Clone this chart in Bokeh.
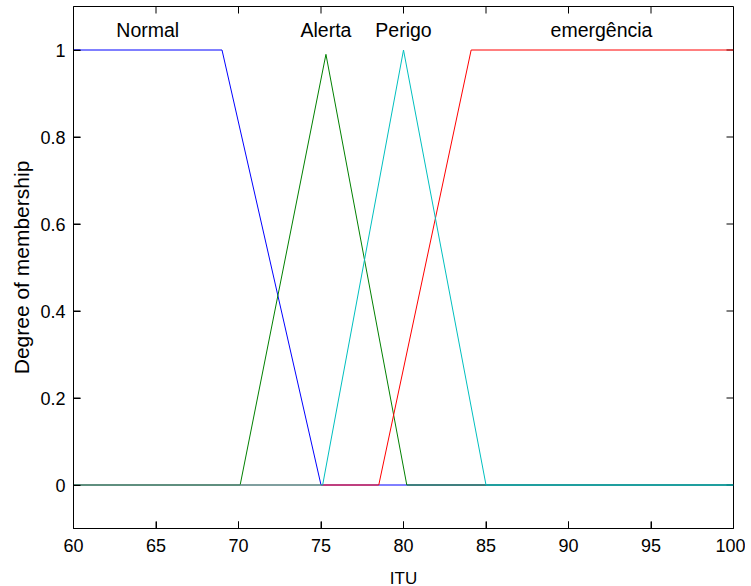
from bokeh.plotting import figure
from bokeh.models import Range1d, FixedTicker, CustomJSTickFormatter
from bokeh.core.properties import value
from bokeh.embed import file_html
from bokeh.resources import INLINE

# membership functions (vertices)
normal_x = [60, 69, 75, 100]
normal_mu = [1, 1, 0, 0]
alerta_x = [60, 70.1, 75.3, 80.2, 100]
alerta_mu = [0, 0, 0.99, 0, 0]
perigo_x = [60, 75.1, 80, 85, 100]
perigo_mu = [0, 0, 1, 0, 0]
emerg_x = [60, 78.5, 84.1, 100]
emerg_mu = [0, 0, 1, 1]

label_text = ["Normal", "Alerta", "Perigo", "emergência"]
label_x = [64.5, 75.3, 80, 92]
label_y = [1.045, 1.045, 1.045, 1.045]

x_ticks = [60, 65, 70, 75, 80, 85, 90, 95, 100]
y_ticks = [0, 0.2, 0.4, 0.6, 0.8, 1]
x_lim = (60, 100)
y_lim = (-0.1, 1.1)

FONT = "Liberation Sans"
FW, FH = 660, 522
TICK_PX = 7

p = figure(frame_width=FW, frame_height=FH, output_backend="svg",
           toolbar_location=None, x_range=Range1d(*x_lim), y_range=Range1d(*y_lim),
           min_border_left=73, min_border_right=12, min_border_top=6, min_border_bottom=0,
           x_axis_label="ITU", y_axis_label="Degree of membership")
p.grid.visible = False
p.outline_line_color = "black"
p.outline_line_width = 1
p.background_fill_color = "white"
p.border_fill_color = "white"

fmt = CustomJSTickFormatter(code="var s = tick.toFixed(1); return s.replace(/\\.0$/, '');")

for ax in p.xaxis:
    ax.ticker = FixedTicker(ticks=x_ticks)
    ax.major_label_standoff = 10
    ax.axis_label_standoff = 14
    ax.axis_label_text_font_size = "17px"
for ax in p.yaxis:
    ax.ticker = FixedTicker(ticks=y_ticks)
    ax.formatter = fmt
    ax.major_label_standoff = 8
    ax.axis_label_standoff = 4
    ax.axis_label_text_font_size = "21px"

for ax in list(p.xaxis) + list(p.yaxis):
    ax.major_tick_in = TICK_PX
    ax.major_tick_out = 0
    ax.minor_tick_in = 0
    ax.minor_tick_out = 0
    ax.axis_line_color = "black"
    ax.major_tick_line_color = "black"
    ax.major_tick_line_width = 1
    ax.major_label_text_font = FONT
    ax.major_label_text_font_size = "18px"
    ax.major_label_text_color = "black"
    ax.axis_label_text_font = FONT
    ax.axis_label_text_font_style = "normal"
    ax.axis_label_text_color = "black"

# inward tick marks on all four edges of the box (length converted from pixels)
dx = TICK_PX * (x_lim[1] - x_lim[0]) / FW
dy = TICK_PX * (y_lim[1] - y_lim[0]) / FH
nx, ny = len(x_ticks), len(y_ticks)
p.segment(x0=x_ticks, y0=[y_lim[1]] * nx, x1=x_ticks, y1=[y_lim[1] - dy] * nx,
          line_color="black", line_width=1)
p.segment(x0=x_ticks, y0=[y_lim[0]] * nx, x1=x_ticks, y1=[y_lim[0] + dy] * nx,
          line_color="black", line_width=1)
p.segment(x0=[x_lim[1]] * ny, y0=y_ticks, x1=[x_lim[1] - dx] * ny, y1=y_ticks,
          line_color="black", line_width=1)
p.segment(x0=[x_lim[0]] * ny, y0=y_ticks, x1=[x_lim[0] + dx] * ny, y1=y_ticks,
          line_color="black", line_width=1)

p.line(normal_x, normal_mu, line_color="#0000ff", line_width=1)
p.line(alerta_x, alerta_mu, line_color="#008000", line_width=1)
p.line(emerg_x, emerg_mu, line_color="#ff0000", line_width=1)
p.line(perigo_x, perigo_mu, line_color="#00bfbf", line_width=1)

p.text(x=label_x, y=label_y, text=label_text, text_align="center", text_baseline="middle",
       text_font=value(FONT), text_font_size="19.5px", text_color="black")

open("out.html", "w").write(file_html(p, INLINE))
